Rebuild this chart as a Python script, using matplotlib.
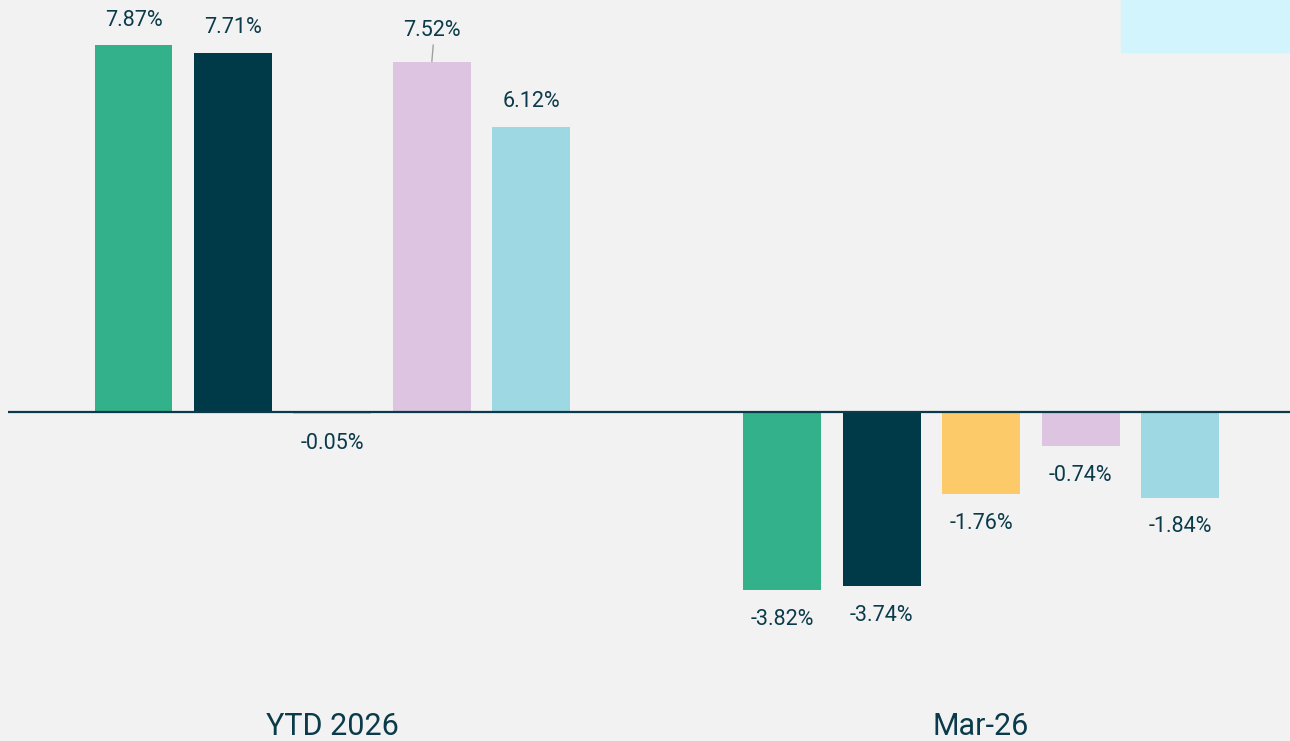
import numpy as np
import matplotlib.pyplot as plt
from matplotlib.patches import Rectangle

categories = ['YTD 2026', 'Mar-26']
series_colors = ['#33b18b', '#003a48', '#fdca69', '#ddc4e1', '#9ed9e3']
values = [
    [7.87, -3.82],
    [7.71, -3.74],
    [-0.05, -1.76],
    [7.52, -0.74],
    [6.12, -1.84],
]
labels = [
    ['7.87%', '-3.82%'],
    ['7.71%', '-3.74%'],
    ['-0.05%', '-1.76%'],
    ['7.52%', '-0.74%'],
    ['6.12%', '-1.84%'],
]

text_color = '#0b3b4a'
bg = '#f2f2f2'
font = ['Roboto', 'DejaVu Sans']

fig = plt.figure(figsize=(12.9, 7.41), dpi=100, facecolor=bg)
ax = fig.add_axes([8 / 1290, 0, 1282 / 1290, 1])
ax.set_facecolor(bg)

x = np.arange(len(categories))
width = 0.12
step = 0.1533

for i, (vals, col) in enumerate(zip(values, series_colors)):
    pos = x + (i - 2) * step
    bars = ax.bar(pos, vals, width, color=col, zorder=2)
    for b, v, lab in zip(bars, vals, labels[i]):
        cx = b.get_x() + b.get_width() / 2
        off = 18 if v >= 0 else -21
        if lab == '7.52%':
            # label pushed up, joined to its bar by a leader line
            ax.annotate(lab, xy=(cx, v), xytext=(0, 22.5), textcoords='offset points',
                        ha='center', va='center', fontsize=15.5, color=text_color,
                        family=font,
                        arrowprops=dict(arrowstyle='-', color='#a0a0a0', lw=1,
                                        shrinkA=1, shrinkB=0,
                                        relpos=(0.53, 0)))
        else:
            ax.annotate(lab, xy=(cx, v), xytext=(0, off), textcoords='offset points',
                        ha='center', va='center', fontsize=15.5, color=text_color,
                        family=font)

ax.axhline(0, color='#0b3b4a', lw=1.6, zorder=3)

ax.set_xlim(-0.5, 1.476)
ax.set_ylim(-7.06, 8.84)

for xi, cat in zip(x, categories):
    ax.text(xi, -6.75, cat, ha='center', va='center', fontsize=22,
            color=text_color, family=font)

ax.axis('off')

# cut-off legend box in the top right corner
fig.patches.append(Rectangle((1121 / 1290, 1 - 52 / 741), 169 / 1290, 52 / 741,
                             transform=fig.transFigure, color='#d2f4fc', zorder=0))

plt.savefig('out.png', dpi=100, facecolor=bg)
